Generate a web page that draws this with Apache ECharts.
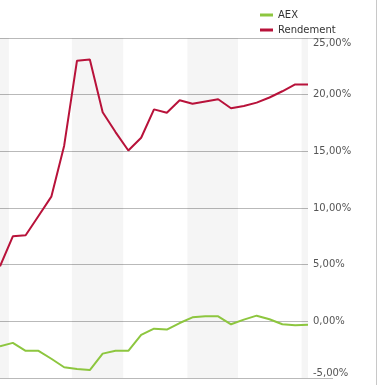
<!DOCTYPE html>
<html>
<head>
<meta charset="utf-8">
<script src="https://cdn.jsdelivr.net/npm/echarts@6/dist/echarts.min.js"></script>
<style>html,body{margin:0;padding:0;background:#fff;}#c{width:385px;height:385px;}</style>
</head>
<body>
<div id="c"></div>
<script>
// Weekly points (index along x)
var rendement = [4.85, 7.5, 7.6, 9.3, 11.0, 15.5, 23.0, 23.1, 18.45, 16.7, 15.07, 16.2, 18.7, 18.4, 19.5, 19.2, 19.4, 19.6, 18.8, 19.0, 19.3, 19.75, 20.3, 20.9, 20.9];
var aex = [-2.2, -1.9, -2.6, -2.6, -3.3, -4.05, -4.2, -4.3, -2.85, -2.6, -2.6, -1.2, -0.65, -0.73, -0.15, 0.35, 0.44, 0.44, -0.26, 0.15, 0.5, 0.18, -0.26, -0.35, -0.3];
// Month bands (shaded), in x-index units
var bands = [[0, 0.7], [5.6, 9.6], [14.6, 18.55], [23.5, 24]];
var yTicks = [-5, 0, 5, 10, 15, 20, 25];
var seriesNames = ['AEX', 'Rendement'];

function pairs(arr) { return arr.map(function (v, i) { return [i, v]; }); }

var chart = echarts.init(document.getElementById('c'), null, {renderer: 'canvas'});
chart.setOption({
  animation: false,
  backgroundColor: '#ffffff',
  textStyle: {fontFamily: 'DejaVu Sans'},
  legend: {
    orient: 'vertical',
    left: 255,
    top: 5,
    itemWidth: 13,
    itemHeight: 3,
    itemGap: 5,
    icon: 'rect',
    textStyle: {fontSize: 10, color: '#333', fontFamily: 'DejaVu Sans', padding: [0, 0, 0, 0]},
    data: seriesNames
  },
  grid: {left: 0, right: 77, top: 38, bottom: 7, containLabel: false},
  xAxis: {
    type: 'value', min: 0, max: rendement.length - 1,
    show: false
  },
  yAxis: {
    type: 'value', position: 'right',
    min: yTicks[0], max: yTicks[yTicks.length - 1], interval: 5,
    axisLine: {show: false}, axisTick: {show: false},
    splitLine: {lineStyle: {color: '#b9b9b9', width: 1}},
    axisLabel: {
      margin: 5, color: '#555', fontSize: 10, fontFamily: 'DejaVu Sans',
      verticalAlignMaxLabel: 'top', verticalAlignMinLabel: 'bottom',
      formatter: function (v) { return v.toFixed(2).replace('.', ',') + '%'; }
    }
  },
  graphic: [
    {type: 'line', shape: {x1: 376.5, y1: 0, x2: 376.5, y2: 385}, style: {stroke: '#c8c8c8', lineWidth: 1}, silent: true},
    {type: 'line', shape: {x1: 308, y1: 38.5, x2: 333, y2: 38.5}, style: {stroke: '#b9b9b9', lineWidth: 1}, silent: true},
    {type: 'line', shape: {x1: 308, y1: 378.5, x2: 333, y2: 378.5}, style: {stroke: '#b9b9b9', lineWidth: 1}, silent: true}
  ],
  series: [
    {
      name: 'AEX', type: 'line', data: pairs(aex),
      showSymbol: false, symbol: 'none',
      lineStyle: {color: '#8dc63f', width: 2}, itemStyle: {color: '#8dc63f'},
      z: 3,
      markArea: {
        silent: true,
        itemStyle: {color: 'rgba(0,0,0,0.04)'},
        data: bands.map(function (b) { return [{xAxis: b[0]}, {xAxis: b[1]}]; })
      }
    },
    {
      name: 'Rendement', type: 'line', data: pairs(rendement),
      showSymbol: false, symbol: 'none',
      lineStyle: {color: '#b8123a', width: 2}, itemStyle: {color: '#b8123a'},
      z: 3
    }
  ]
});
</script>
</body>
</html>
